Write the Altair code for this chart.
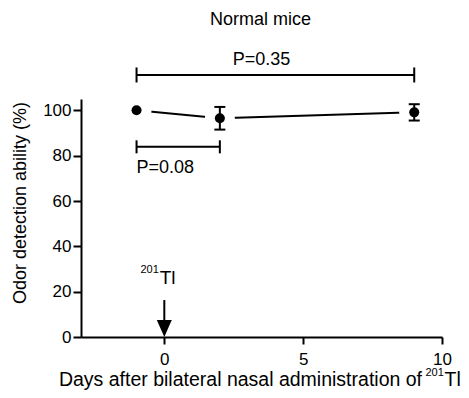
import altair as alt
import pandas as pd

# ---- data ----
days = [-1, 2, 9]
ability = [100.0, 96.5, 99.1]
sem = [0.0, 5.0, 3.6]

bracket_start = [-1, -1]
bracket_end = [9, 2]
bracket_level = [115.6, 83.9]
bracket_cap = [15, 13]
p_labels = ["P=0.35", "P=0.08"]
p_label_x = [3.5, -1]
p_label_y = [120.0, 72.3]

arrow_day = [0]
arrow_top = [16.3]
arrow_shaft_end = [6.0]
arrow_head_y = [3.75]
tl_label_x = [-0.2]
tl_label_y = [23.4]
tl_sup_y = [28.1]

x_ticks = [0, 5, 10]
y_ticks = [0, 20, 40, 60, 80, 100]
x_domain = [-3, 10]
y_domain = [0, 105]

chart_title = "Normal mice"
x_title_main = "Days after bilateral nasal administration of"
x_title_sup = "201"
x_title_end = "Tl"

W, H = 361, 238
FONT = "Liberation Sans"
BLACK = "#000000"

pts = pd.DataFrame({"day": days, "ability": ability, "sem": sem})
pts["lo"] = pts["ability"] - pts["sem"]
pts["hi"] = pts["ability"] + pts["sem"]
err = pts[pts["sem"] > 0]

brackets = pd.DataFrame({"x1": bracket_start, "x2": bracket_end,
                         "y": bracket_level, "cap": bracket_cap})
caps = pd.concat([
    pd.DataFrame({"day": bracket_start, "ability": bracket_level, "cap": bracket_cap}),
    pd.DataFrame({"day": bracket_end, "ability": bracket_level, "cap": bracket_cap}),
])
plab = pd.DataFrame({"day": p_label_x, "ability": p_label_y, "label": p_labels})
arrow = pd.DataFrame({"day": arrow_day, "top": arrow_top, "end": arrow_shaft_end,
                      "head": arrow_head_y})
tl = pd.DataFrame({"day": tl_label_x, "ability": tl_label_y, "sup": tl_sup_y})
one = pd.DataFrame({"k": [0]})

xs = alt.Scale(domain=x_domain, nice=False, zero=False)
ys = alt.Scale(domain=y_domain, nice=False, zero=False)

x_axis = alt.Axis(values=x_ticks, title=None, grid=False, domainColor=BLACK,
                  domainWidth=2, tickColor=BLACK, tickWidth=2, tickSize=7,
                  labelFont=FONT, labelFontSize=17, labelColor=BLACK,
                  labelPadding=7, labelFlush=False)
y_axis = alt.Axis(values=y_ticks, title="Odor detection ability (%)", grid=False,
                  domainColor=BLACK, domainWidth=2, tickColor=BLACK, tickWidth=2,
                  tickSize=8, labelFont=FONT, labelFontSize=17, labelColor=BLACK,
                  labelPadding=2, labelFlush=False,
                  titleFont=FONT, titleFontSize=18, titleFontWeight="normal",
                  titleColor=BLACK, titleAngle=270, titleAlign="center",
                  titleBaseline="alphabetic", titleX=-55.5, titleY=103.5)


def X(field):
    return alt.X(field, type="quantitative", scale=xs, axis=x_axis)


def Y(field):
    return alt.Y(field, type="quantitative", scale=ys, axis=y_axis)


base = alt.Chart(pts)

line = base.mark_line(color=BLACK, strokeWidth=2).encode(x=X("day"), y=Y("ability"))
halo = base.mark_circle(color="white", size=900, opacity=1).encode(x=X("day"), y=Y("ability"))
err_rule = alt.Chart(err).mark_rule(color=BLACK, strokeWidth=2).encode(
    x=X("day"), y=Y("lo"), y2="hi")
err_lo = alt.Chart(err).mark_tick(color=BLACK, orient="horizontal", size=11,
                                  thickness=2, opacity=1).encode(x=X("day"), y=Y("lo"))
err_hi = alt.Chart(err).mark_tick(color=BLACK, orient="horizontal", size=11,
                                  thickness=2, opacity=1).encode(x=X("day"), y=Y("hi"))
dots = base.mark_circle(color=BLACK, size=100, opacity=1).encode(x=X("day"), y=Y("ability"))

br_line = alt.Chart(brackets).mark_rule(color=BLACK, strokeWidth=2).encode(
    x=X("x1"), x2="x2", y=Y("y"))
br_caps = alt.Chart(caps).mark_tick(color=BLACK, orient="vertical", thickness=2,
                                    opacity=1).encode(
    x=X("day"), y=Y("ability"), size=alt.Size("cap:Q", scale=None, legend=None))
p_center = alt.Chart(plab.iloc[[0]]).mark_text(
    font=FONT, fontSize=18, color=BLACK, align="center", baseline="alphabetic").encode(
    x=X("day"), y=Y("ability"), text="label:N")
p_left = alt.Chart(plab.iloc[[1]]).mark_text(
    font=FONT, fontSize=18, color=BLACK, align="left", baseline="alphabetic").encode(
    x=X("day"), y=Y("ability"), text="label:N")

shaft = alt.Chart(arrow).mark_rule(color=BLACK, strokeWidth=2).encode(
    x=X("day"), y=Y("top"), y2="end")
head = alt.Chart(arrow).mark_point(shape="M-0.88,-1L0.88,-1L0,1Z", filled=True,
                                   color=BLACK, size=289, opacity=1,
                                   strokeWidth=0).encode(x=X("day"), y=Y("head"))
tl_main = alt.Chart(tl).mark_text(font=FONT, fontSize=19, color=BLACK, align="left",
                                  baseline="alphabetic", dx=1).encode(
    x=X("day"), y=Y("ability"), text=alt.value("Tl"))
tl_sup = alt.Chart(tl).mark_text(font=FONT, fontSize=11, color=BLACK, align="right",
                                 baseline="alphabetic", dx=0).encode(
    x=X("day"), y=Y("sup"), text=alt.value("201"))

# titles drawn as text (x title needs a superscript)
title = alt.Chart(one).mark_text(font=FONT, fontSize=18, color=BLACK, align="center",
                                 baseline="alphabetic").encode(
    x=alt.value(179.5), y=alt.value(-74), text=alt.value(chart_title))
xt_main = alt.Chart(one).mark_text(font=FONT, fontSize=19.5, color=BLACK, align="right",
                                   baseline="alphabetic").encode(
    x=alt.value(341), y=alt.value(287), text=alt.value(x_title_main))
xt_sup = alt.Chart(one).mark_text(font=FONT, fontSize=11, color=BLACK, align="left",
                                  baseline="alphabetic").encode(
    x=alt.value(344.5), y=alt.value(276.5), text=alt.value(x_title_sup))
xt_tl = alt.Chart(one).mark_text(font=FONT, fontSize=19.5, color=BLACK, align="left",
                                 baseline="alphabetic").encode(
    x=alt.value(363.5), y=alt.value(287), text=alt.value(x_title_end))

chart = alt.layer(
    line, halo, err_rule, err_lo, err_hi, dots,
    br_line, br_caps, p_center, p_left,
    shaft, head, tl_main, tl_sup,
    title, xt_main, xt_sup, xt_tl,
).properties(
    width=W, height=H,
    autosize=alt.AutoSizeParams(type="none"),
    padding={"left": 73, "top": 91, "right": 19, "bottom": 53},
    background="white",
).configure_view(stroke=None)

chart.save("out.html", embed_options={"renderer": "svg", "actions": False})
